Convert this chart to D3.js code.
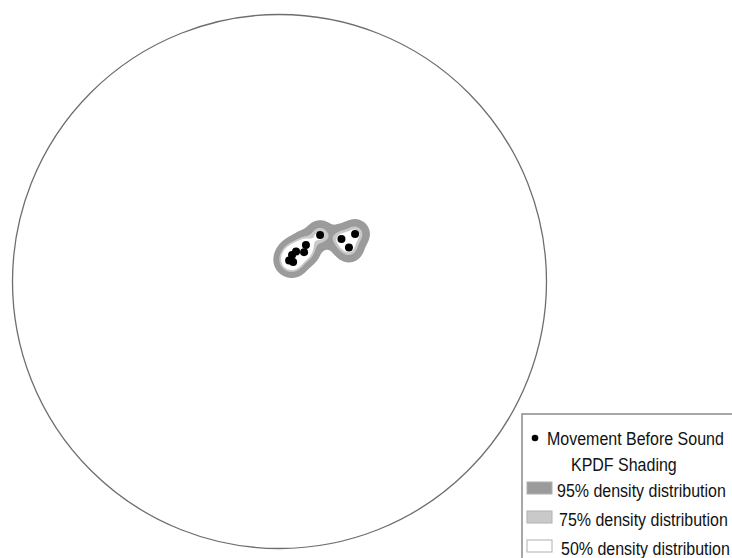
<!DOCTYPE html>
<html><head><meta charset="utf-8">
<script src="https://cdn.jsdelivr.net/npm/d3@7"></script>
<style>body{margin:0;background:#fff;} svg{display:block;} text{font-family:"Liberation Sans",Arial,sans-serif;}</style>
</head><body><svg id="c" width="732" height="558"></svg>
<script>
// Data (domain units: circle spans -100..100 on both axes)
const pointX = [15.2, 9.9, 9.2, 6.2, 4.7, 3.6, 5.1, 23.2, 28.3, 26.0];
const pointY = [17.4, 13.7, 11.0, 11.2, 9.9, 7.9, 7.3, 15.9, 17.8, 12.7];
const levelLabels = ["95% density distribution", "75% density distribution", "50% density distribution"];
const kernelThresholds = [0.075, 0.55, 0.85];   // density levels (in kernel-peak units) drawn for the 95/75/50% bands
const levelColors = ["#9b9b9b", "#c9c9c9", "#ffffff"];
const seriesLabel = "Movement Before Sound";
const shadingTitle = "KPDF Shading";

const svg = d3.select("#c");
const cx = 279.5, cy = 281.5, R = 267;
const x = d3.scaleLinear().domain([-100, 100]).range([cx - R, cx + R]);
const y = d3.scaleLinear().domain([-100, 100]).range([cy + R, cy - R]);

svg.append("circle").attr("cx", x(0)).attr("cy", y(0)).attr("r", x(100) - x(0))
  .attr("fill", "white").attr("stroke", "#6e6e6e").attr("stroke-width", 1.3);

// Kernel density grid in pixel space
const pts = pointX.map((v, i) => [x(v), y(pointY[i])]);
const x0 = 230, y0 = 180, gw = 200, gh = 130, h = 6.5;
const vals = new Float64Array(gw * gh);
for (let j = 0; j < gh; j++) for (let i = 0; i < gw; i++) {
  let s = 0; const px = x0 + i + 0.5, py = y0 + j + 0.5;
  for (const p of pts) { const dx = px - p[0], dy = py - p[1]; s += Math.exp(-(dx*dx + dy*dy) / (2*h*h)); }
  vals[j*gw + i] = s;
}
const contours = d3.contours().size([gw, gh]).thresholds(kernelThresholds)(vals);
const g = svg.append("g").attr("transform", `translate(${x0},${y0})`);
g.selectAll("path").data(contours).join("path")
  .attr("d", d3.geoPath()).attr("fill", (d, i) => levelColors[i]).attr("stroke", "none");

svg.append("g").selectAll("circle").data(pts).join("circle")
  .attr("cx", d => d[0]).attr("cy", d => d[1]).attr("r", 4).attr("fill", "#000");

// Legend
const L = svg.append("g");
L.append("rect").attr("x", 522).attr("y", 414).attr("width", 300).attr("height", 300)
  .attr("fill", "white").attr("stroke", "#8a8a8a").attr("stroke-width", 1.5);
L.append("circle").attr("cx", 535).attr("cy", 438).attr("r", 3.3).attr("fill", "#000");
const fs = 16, sy = 1.12;
function label(tx, ty, str) {
  L.append("text").attr("transform", `translate(${tx},${ty}) scale(1,${sy})`)
    .attr("font-size", fs).attr("fill", "#111").text(str);
}
label(547, 445, seriesLabel);
label(571, 471, shadingTitle);
const rowY = [482, 511, 540];
const textX = [557, 559, 561];
levelLabels.forEach((lab, i) => {
  L.append("rect").attr("x", 527).attr("y", rowY[i]).attr("width", 25).attr("height", 12)
    .attr("fill", levelColors[i]).attr("stroke", "#b0b0b0").attr("stroke-width", 1);
  label(textX[i], rowY[i] + 15, lab);
});
</script></body></html>
